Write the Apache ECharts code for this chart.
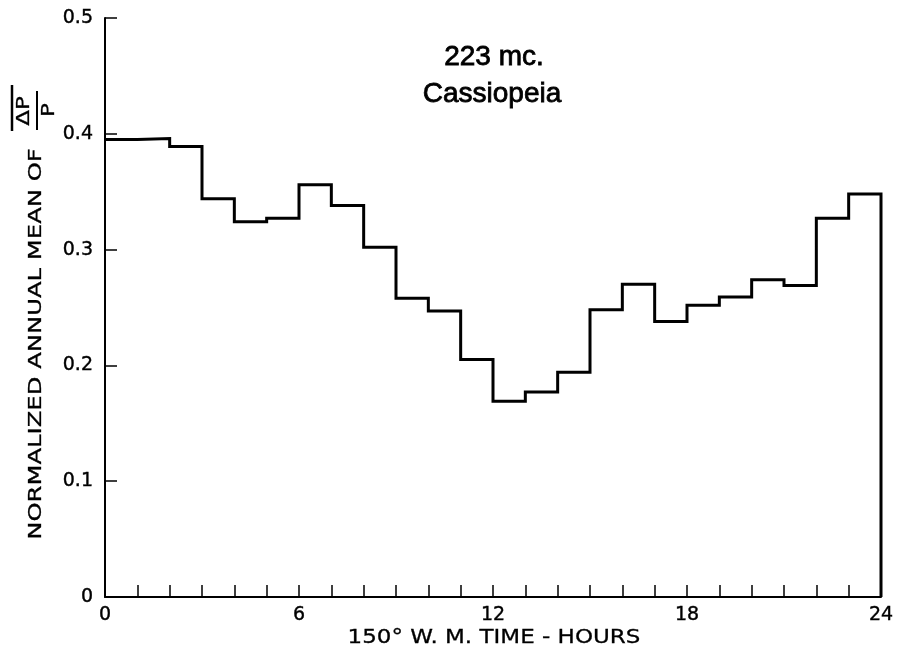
<!DOCTYPE html>
<html>
<head>
<meta charset="utf-8">
<script src="https://cdn.jsdelivr.net/npm/echarts@6/dist/echarts.min.js"></script>
<style>
  html, body { margin: 0; padding: 0; background: #fff; }
  #graph { width: 901px; height: 655px; }
</style>
</head>
<body>
<div id="graph"></div>
<script>
// hour bin edges and the mean value held over each one-hour bin
var hourEdges = [0, 1, 2, 3, 4, 5, 6, 7, 8, 9, 10, 11, 12, 13, 14, 15, 16, 17, 18, 19, 20, 21, 22, 23, 24];
var binValues = [0.395, 0.396, 0.389, 0.344, 0.324, 0.327, 0.356, 0.338, 0.302, 0.258, 0.247, 0.205,
                 0.169, 0.177, 0.194, 0.248, 0.270, 0.238, 0.252, 0.259, 0.274, 0.269, 0.327, 0.348];
var xLabelHours = [0, 6, 12, 18, 24];
var titleLines = ['223 mc.', 'Cassiopeia'];
var xTitle = '150\u00b0 W. M. TIME - HOURS';

var chartDom = document.getElementById('graph');
var myChart = echarts.init(chartDom);
var option;

// step line: each bin held until the next edge, then closed down to zero at 24 h
var stepData = hourEdges.map(function (h, i) {
  return [h, i < binValues.length ? binValues[i] : binValues[binValues.length - 1]];
});
stepData.push([hourEdges[hourEdges.length - 1], 0]);

var labelFont = 'DejaVu Sans';
var stretch = 1.35;

option = {
  animation: false,
  backgroundColor: '#fff',
  grid: { left: 105, right: 20, top: 18, bottom: 58 },
  xAxis: {
    type: 'value',
    min: 0,
    max: 24,
    interval: 1,
    axisLine: { lineStyle: { color: '#000', width: 2 } },
    axisTick: { inside: true, length: 12, lineStyle: { color: '#000', width: 1.5 } },
    axisLabel: {
      color: '#000',
      fontSize: 19,
      fontFamily: labelFont,
      textBorderColor: '#000',
      textBorderWidth: 0.4,
      margin: 9,
      formatter: function (v) {
        return xLabelHours.indexOf(v) >= 0 ? String(v) : '';
      }
    },
    splitLine: { show: false }
  },
  yAxis: {
    type: 'value',
    min: 0,
    max: 0.5,
    interval: 0.1,
    axisLine: { show: true, lineStyle: { color: '#000', width: 2 } },
    axisTick: { show: true, inside: true, length: 12, lineStyle: { color: '#000', width: 1.5 } },
    axisLabel: {
      color: '#000',
      fontSize: 19,
      fontFamily: labelFont,
      textBorderColor: '#000',
      textBorderWidth: 0.4,
      margin: 12,
      formatter: function (v) {
        return v === 0 ? '0' : v.toFixed(1);
      }
    },
    splitLine: { show: false }
  },
  series: [
    {
      type: 'line',
      step: 'end',
      data: stepData,
      symbol: 'none',
      clip: false,
      lineStyle: { color: '#000', width: 3, join: 'miter' }
    }
  ],
  graphic: [
    {
      type: 'text', x: 494, y: 57,
      style: { text: titleLines[0], fontSize: 28, fontFamily: 'Liberation Sans', fill: '#000',
               stroke: '#000', lineWidth: 0.8, align: 'center', verticalAlign: 'middle' }
    },
    {
      type: 'text', x: 492, y: 94,
      style: { text: titleLines[1], fontSize: 28, fontFamily: 'Liberation Sans', fill: '#000',
               stroke: '#000', lineWidth: 0.8, align: 'center', verticalAlign: 'middle' }
    },
    // x axis title, stretched like the wide lettering of the original
    {
      type: 'text', x: 494, y: 638, scaleX: 1.15,
      style: { text: xTitle, fontSize: 20, fontFamily: labelFont, fill: '#000',
               stroke: '#000', lineWidth: 0.3, align: 'center', verticalAlign: 'middle' }
    },
    // rotated y axis title with the barred fraction
    {
      type: 'text', x: 36, y: 344, rotation: Math.PI / 2, scaleX: stretch,
      style: { text: 'NORMALIZED ANNUAL MEAN OF', fontSize: 18, fontFamily: labelFont, fill: '#000',
               stroke: '#000', lineWidth: 0.3, align: 'center', verticalAlign: 'middle' }
    },
    {
      type: 'text', x: 25, y: 111, rotation: Math.PI / 2, scaleX: stretch,
      style: { text: '\u0394P', fontSize: 17, fontFamily: labelFont, fill: '#000',
               stroke: '#000', lineWidth: 0.3, align: 'center', verticalAlign: 'middle' }
    },
    {
      type: 'text', x: 50, y: 110, rotation: Math.PI / 2, scaleX: stretch,
      style: { text: 'P', fontSize: 17, fontFamily: labelFont, fill: '#000',
               stroke: '#000', lineWidth: 0.3, align: 'center', verticalAlign: 'middle' }
    },
    {
      type: 'line', shape: { x1: 37, y1: 91, x2: 37, y2: 130 },
      style: { stroke: '#000', lineWidth: 2 }
    },
    {
      type: 'line', shape: { x1: 12, y1: 85, x2: 12, y2: 131 },
      style: { stroke: '#000', lineWidth: 2.5 }
    }
  ]
};

option && myChart.setOption(option);
</script>
</body>
</html>
